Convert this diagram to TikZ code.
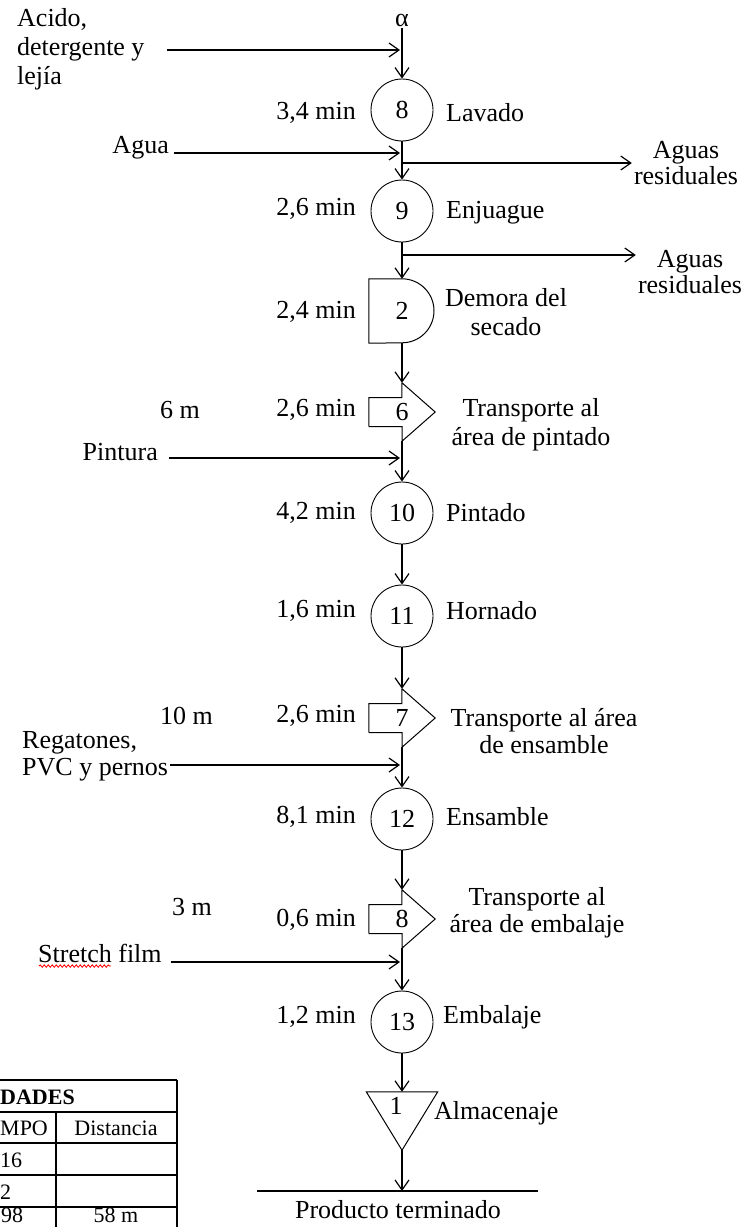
\documentclass[tikz,border=0pt]{standalone}
\usepackage{fontspec}
\setmainfont{Liberation Serif}
\usetikzlibrary{arrows.meta,decorations.pathmorphing}
\begin{document}
\begin{tikzpicture}[x=1pt,y=-1pt]
	\tikzstyle{oper}=[circle,draw=black,line width=0.9pt,minimum size=62pt,inner sep=0pt,font=\fontsize{26}{29}\selectfont]
	\tikzstyle{shp}=[inner sep=0pt,font=\fontsize{26}{29}\selectfont]
	\tikzstyle{shpline}=[draw,line width=1pt]
	\tikzstyle{lbl}=[inner sep=2pt,font=\fontsize{26}{29}\selectfont]
	\tikzstyle{flow}=[line width=1.4pt,-{Straight Barb[length=10pt,width=14pt,line width=1.2pt]}]
	\tikzstyle{feed}=[flow,shorten >=2pt]
	\tikzstyle{tabtxt}=[inner sep=0pt,font=\fontsize{22}{24}\selectfont]
	\tikzstyle{tabline}=[line width=1.8pt]
	\useasboundingbox (0,0) rectangle (749,1227);

	\node [lbl] (alpha) at (402,20) {α};
	\node [lbl,anchor=west,align=left] (acido) at (15,49) {Acido,\\detergente y\\lejía};
	\node [oper] (op8) at (402,110) {8};
	\node [lbl,anchor=east] (t8) at (358,113) {3,4 min};
	\node [lbl,anchor=west] (n8) at (444,113) {Lavado};
	\node [lbl,anchor=east] (agua) at (171,148) {Agua};
	\node [lbl,align=center] (res1) at (686,163) {Aguas\\[-3pt]residuales};
	\node [oper] (op9) at (402,211) {9};
	\node [lbl,anchor=east] (t9) at (358,209) {2,6 min};
	\node [lbl,anchor=west] (n9) at (444,213) {Enjuague};
	\node [lbl,align=center] (res2) at (690,272) {Aguas\\[-3pt]residuales};
	\node [shp,minimum width=66pt,minimum height=64pt] (dem2) at (402,311) {2\hspace{8pt}};
	\node [lbl,anchor=east] (t2) at (358,312) {2,4 min};
	\node [lbl,align=center] (n2) at (506,312) {Demora del\\secado};
	\node [shp,minimum width=66pt,minimum height=58pt] (tr6) at (402,412) {6\hspace{12pt}};
	\node [lbl,anchor=east] (d6) at (202,410) {6 m};
	\node [lbl,anchor=east] (t6) at (358,410) {2,6 min};
	\node [lbl,align=center] (n6) at (531,425) {Transporte al\\área de pintado};
	\node [lbl,anchor=east] (pintura) at (160,452) {Pintura};
	\node [oper] (op10) at (402,513) {10};
	\node [lbl,anchor=east] (t10) at (358,513) {4,2 min};
	\node [lbl,anchor=west] (n10) at (444,513) {Pintado};
	\node [oper] (op11) at (402,616) {11};
	\node [lbl,anchor=east] (t11) at (358,611) {1,6 min};
	\node [lbl,anchor=west] (n11) at (444,611) {Hornado};
	\node [shp,minimum width=66pt,minimum height=58pt] (tr7) at (402,718) {7\hspace{10pt}};
	\node [lbl,anchor=east] (d7) at (215,716) {10 m};
	\node [lbl,anchor=east] (t7) at (358,716) {2,6 min};
	\node [lbl,align=center] (n7) at (544,731) {Transporte al área\\[-2pt]de ensamble};
	\node [lbl,anchor=west,align=left] (regat) at (20,756) {Regatones,\\[-2pt]PVC y pernos};
	\node [oper] (op12) at (402,819) {12};
	\node [lbl,anchor=east] (t12) at (358,817) {8,1 min};
	\node [lbl,anchor=west] (n12) at (444,817) {Ensamble};
	\node [shp,minimum width=66pt,minimum height=58pt] (tr8) at (402,919) {8\hspace{12pt}};
	\node [lbl,anchor=east] (d8) at (214,907) {3 m};
	\node [lbl,anchor=east] (t8b) at (358,920) {0,6 min};
	\node [lbl,align=center] (n8b) at (537,913) {Transporte al\\[-2pt]área de embalaje};
	\node [lbl,anchor=west] (stretch) at (36,953) {Stretch film};
	\node [oper] (op13) at (402,1022) {13};
	\node [lbl,anchor=east] (t13) at (358,1017) {1,2 min};
	\node [lbl,anchor=west] (n13) at (441,1017) {Embalaje};
	\node [shp,minimum width=71pt,minimum height=58pt] (alm) at (402,1121) {};
	\node [lbl] (alm1) at (396,1106) {1};
	\node [lbl,anchor=west] (nalm) at (432,1113) {Almacenaje};
	\node [lbl] (prod) at (398,1210) {Producto terminado};

	\coordinate (j1) at (402,50);
	\coordinate (j2) at (402,153);
	\coordinate (b1) at (402,163);
	\coordinate (b2) at (402,255);
	\coordinate (j3) at (402,458);
	\coordinate (j4) at (402,765);
	\coordinate (j5) at (402,962);
	\coordinate (pl) at (257,1191);
	\coordinate (pc) at (402,1191);
	\coordinate (pr) at (538,1191);

	\draw [shpline] (dem2.south west) -- (dem2.north west) -- (dem2.north) arc [start angle=90,end angle=-90,radius=32pt] -- cycle;
	\foreach \tr in {tr6,tr7,tr8}
		\draw [shpline] (\tr.west) ++(0,-14.5) -- ++(33,0) -- (\tr.north) -- (\tr.east) -- (\tr.south) -- ++(0,-14.5) -- ++(-33,0) -- cycle;
	\draw [shpline] (alm.north west) -- (alm.north east) -- (alm.south) -- cycle;

	\draw[flow] (alpha) -- (op8);
	\draw[flow] (op8) -- (op9);
	\draw[flow] (op9) -- (dem2.north);
	\draw[flow] (dem2.south) -- (tr6.north);
	\draw[flow] (tr6.south) -- (op10);
	\draw[flow] (op10) -- (op11);
	\draw[flow] (op11) -- (tr7.north);
	\draw[flow] (tr7.south) -- (op12);
	\draw[flow] (op12) -- (tr8.north);
	\draw[flow] (tr8.south) -- (op13);
	\draw[flow] (op13) -- (alm.north);
	\draw[flow] (alm.south) -- (pc);
	\draw [line width=1.4pt] (pl) -- (pr);

	\draw[feed,shorten <=20pt] (acido.east |- j1) -- (j1);
	\draw[feed,shorten <=3pt] (agua.east |- j2) -- (j2);
	\draw[feed,shorten <=9pt] (pintura.east |- j3) -- (j3);
	\draw[feed] (regat.east |- j4) -- (j4);
	\draw[feed,shorten <=7pt] (stretch.east |- j5) -- (j5);
	\draw[flow] (b1) -- (res1.west);
	\draw[flow] (b2) -- (b2 -| res2.west);
	\draw [red,line width=0.8pt,decorate,decoration={snake,amplitude=1.2pt,segment length=4pt}] ([yshift=-4pt]stretch.base west) ++(3,0) -- ++(72,0);

	\foreach \y in {1080,1112,1143,1175,1207}
		\draw [tabline] (0,\y) -- (177,\y);
	\draw [tabline] (177,1080) -- (177,1227);
	\draw [tabline] (56,1112) -- (56,1227);
	\node [tabtxt,anchor=west,font=\fontsize{22}{24}\selectfont\bfseries] (th1) at (0,1097) {DADES};
	\node [tabtxt,anchor=west] (th2) at (0,1128) {MPO};
	\node [tabtxt] (th3) at (116,1128) {Distancia};
	\node [tabtxt,anchor=west] (r1) at (0,1160) {16};
	\node [tabtxt,anchor=west] (r2) at (0,1192) {2};
	\node [tabtxt,anchor=base west] (r3) at (1,1222) {98};
	\node [tabtxt,anchor=base] (r3d) at (116,1222) {58 m};
\end{tikzpicture}
\end{document}
